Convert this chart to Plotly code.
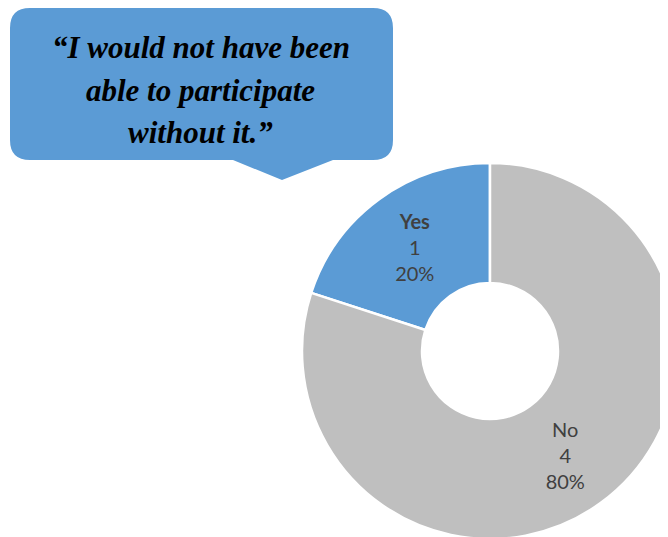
import plotly.graph_objects as go

# data
labels = ['Yes', 'No']
values = [1, 4]
colors = ['#5B9BD5', '#BFBFBF']
quote_lines = ['\u201cI would not have been', 'able to participate', 'without it.\u201d']

# figure is a bit bigger than the window so the donut runs off the edge,
# page body adds an 8px margin -> subtract it from screen positions
W, H = 700, 560
OFF = 8

def px(x):
    return (x - OFF) / W

def py(y):
    return 1 - (y - OFF) / H

# donut: centre (490, 351) on screen, outer radius 188, hole radius 68
cx, cy, R = 490, 351, 188

# Yes slice sits left of 12 o'clock, so start it one slice-width back
start_angle = -360 * values[0] / sum(values)

fig = go.Figure()

fig.add_trace(go.Pie(
    labels=labels,
    values=values,
    sort=False,
    direction='clockwise',
    rotation=start_angle,
    hole=68 / R,
    marker=dict(colors=colors, line=dict(color='white', width=2.5)),
    texttemplate=['<b>%{label}</b><br>%{value}<br>%{percent}',
                  '%{label}<br>%{value}<br>%{percent}'],
    textposition='inside',
    insidetextorientation='horizontal',
    textfont=dict(family='Lato, Carlito, sans-serif', size=20, color='#404040'),
    domain=dict(x=[px(cx - R), px(cx + R)], y=[py(cy + R), py(cy - R)]),
    hoverinfo='label+value+percent',
    showlegend=False,
))

# speech bubble (rounded box + tail)
l, r, t, b, rad = 10, 393, 8, 160, 20
pts = [
    ('M', l + rad, t), ('L', r - rad, t), ('Q', r, t, r, t + rad),
    ('L', r, b - rad), ('Q', r, b, r - rad, b),
    ('L', 333, b), ('L', 282, 180), ('L', 233, b),
    ('L', l + rad, b), ('Q', l, b, l, b - rad),
    ('L', l, t + rad), ('Q', l, t, l + rad, t),
]
path = ''
for p in pts:
    cmd = p[0]
    coords = p[1:]
    s = ' '.join(f'{px(coords[i]):.5f},{py(coords[i + 1]):.5f}' for i in range(0, len(coords), 2))
    path += f'{cmd} {s} '
path += 'Z'
fig.add_shape(type='path', path=path, xref='paper', yref='paper',
              fillcolor='#5B9BD5', line=dict(width=0), layer='below')

for i, line in enumerate(quote_lines):
    fig.add_annotation(
        x=px(201), y=py(48 + i * 42), xref='paper', yref='paper',
        text=f'<b><i>{line}</i></b>', showarrow=False,
        xanchor='center', yanchor='middle',
        font=dict(family='Liberation Serif, DejaVu Serif, serif', size=31, color='#000000'),
    )

fig.update_layout(
    width=W, height=H,
    margin=dict(l=0, r=0, t=0, b=0),
    paper_bgcolor='white',
    plot_bgcolor='white',
    uniformtext=dict(minsize=20, mode='show'),
)

fig.write_html('out.html')
